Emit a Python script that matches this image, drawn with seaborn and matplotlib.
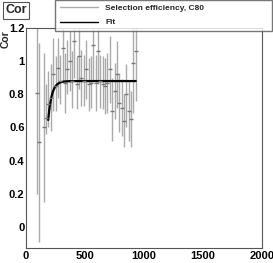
import numpy as np
import pandas as pd
import seaborn as sns
import matplotlib.pyplot as plt
from matplotlib.lines import Line2D
from matplotlib.ticker import MultipleLocator

# --- data ---
x_vals = [90, 110, 150, 170, 190, 210, 230, 250, 270, 290, 310, 330, 350, 370,
          390, 410, 430, 450, 470, 490, 510, 530, 550, 570, 590, 610, 630, 650,
          670, 690, 710, 730, 750, 770, 790, 810, 830, 850, 870, 890, 910, 930]
eff = [0.81, 0.51, 0.60, 0.66, 0.74, 0.78, 0.92, 0.85, 0.96, 0.88, 1.08, 0.87,
       0.95, 1.00, 0.88, 1.12, 0.86, 1.03, 0.90, 0.88, 0.95, 0.86, 0.87, 1.10,
       0.87, 1.06, 0.88, 0.86, 0.85, 0.87, 0.95, 0.70, 0.82, 0.92, 0.75, 0.72,
       0.64, 0.80, 0.70, 0.65, 0.99, 1.06]
err_lo = [0.61, 0.60, 0.45, 0.10, 0.14, 0.20, 0.22, 0.15, 0.18, 0.14, 0.20, 0.18,
          0.15, 0.18, 0.16, 0.22, 0.15, 0.20, 0.17, 0.15, 0.18, 0.16, 0.15, 0.22,
          0.17, 0.20, 0.16, 0.15, 0.17, 0.18, 0.20, 0.18, 0.17, 0.20, 0.18, 0.17,
          0.16, 0.20, 0.18, 0.17, 0.30, 0.30]
err_hi = [0.45, 0.60, 0.45, 0.20, 0.20, 0.20, 0.22, 0.18, 0.18, 0.16, 0.20, 0.18,
          0.18, 0.18, 0.18, 0.20, 0.17, 0.20, 0.17, 0.16, 0.18, 0.16, 0.16, 0.20,
          0.17, 0.20, 0.16, 0.17, 0.17, 0.18, 0.20, 0.20, 0.17, 0.20, 0.18, 0.17,
          0.16, 0.18, 0.18, 0.17, 0.25, 0.20]

# fit parameters (plateau * (1 - exp(-(x - x0) / tau)))
FIT_PLATEAU = 0.88
FIT_X0 = 147
FIT_TAU = 31
FIT_RANGE = (188, 930)

POINT_COLOR = '#aaaaaa'

sns.set_style('white')
plt.rcParams['font.family'] = ['Liberation Sans', 'DejaVu Sans']
plt.rcParams['font.weight'] = 'bold'

fig = plt.figure(figsize=(2.73, 2.63), dpi=100)
ax = fig.add_axes([26 / 273, 1 - 248 / 263, 236 / 273, 220 / 263])

ax.errorbar(x_vals, eff, yerr=[err_lo, err_hi], fmt='_', color=POINT_COLOR,
            ecolor=POINT_COLOR, elinewidth=1.0, markersize=3, markeredgecolor='#777777',
            capsize=0)

fit_x = np.linspace(FIT_RANGE[0], FIT_RANGE[1], 300)
fit_df = pd.DataFrame({'x': fit_x,
                       'y': FIT_PLATEAU * (1 - np.exp(-(fit_x - FIT_X0) / FIT_TAU))})
sns.lineplot(data=fit_df, x='x', y='y', ax=ax, color='black', linewidth=1.6, legend=False)

ax.set_xlim(0, 2000)
ax.set_ylim(-0.127, 1.2)
ax.set_xlabel('')
ax.set_ylabel('')
ax.set_xticks([0, 500, 1000, 1500, 2000])
ax.set_yticks([0, 0.2, 0.4, 0.6, 0.8, 1, 1.2])
ax.set_yticklabels(['0', '0.2', '0.4', '0.6', '0.8', '1', '1.2'])
ax.yaxis.set_minor_locator(MultipleLocator(0.05))
ax.tick_params(axis='both', which='both', direction='in', labelsize=8,
               colors='#999999', labelcolor='black', top=False, right=False)
ax.tick_params(axis='both', which='major', length=7, width=0.8, pad=2)
ax.tick_params(axis='y', which='major', pad=1)
ax.tick_params(axis='both', which='minor', length=3.5, width=0.8)
for s in ax.spines.values():
    s.set_color('#555555')
    s.set_linewidth(0.8)

fig.text(6 / 273, 1 - 39 / 263, 'Cor', rotation=90, fontsize=7.5, fontweight='bold',
         ha='center', va='center')

handles = [Line2D([], [], color=POINT_COLOR, lw=1.0),
           Line2D([], [], color='black', lw=1.0)]
ax.legend(handles, ['Selection efficiency, C80', 'Fit'], loc='upper left',
          bbox_to_anchor=(55 / 273, 1 - 29 / 263, 217 / 273, 29 / 263),
          bbox_transform=fig.transFigure, mode='expand', borderaxespad=0,
          fontsize=6, frameon=True, fancybox=False, edgecolor='#555555',
          handlelength=4.6, handletextpad=0.9, labelspacing=0.75, borderpad=0.55)

fig.text(5 / 273, 1 - 10 / 263, 'Cor', fontsize=9, fontweight='bold', ha='left', va='center',
         bbox=dict(boxstyle='square,pad=0.2', fc='white', ec='#555555', lw=0.8))

fig.savefig('out.png', dpi=100)
